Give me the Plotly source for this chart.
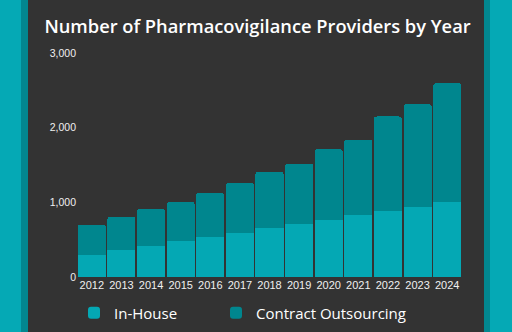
import plotly.graph_objects as go

years = ["2012", "2013", "2014", "2015", "2016", "2017", "2018",
         "2019", "2020", "2021", "2022", "2023", "2024"]
in_house = [300, 360, 415, 480, 535, 590, 650, 710, 765, 825, 885, 940, 1000]
totals = [700, 805, 910, 1005, 1125, 1260, 1410, 1520, 1710, 1840, 2150, 2315, 2595]
contract = [t - h for t, h in zip(totals, in_house)]

LIGHT = "#04A8B4"
DARK = "#00868E"
PANEL = "#333333"

W, H = 512, 332
L, R, T, B = 77, 50, 53, 55
pw, ph = W - L - R, H - T - B

def px(x):
    return (x - L) / pw

def py(y):
    return (H - B - y) / ph

fig = go.Figure()
fig.add_trace(go.Bar(x=years, y=in_house, name="In-House", legend="legend",
                     showlegend=True,
                     marker=dict(color=LIGHT, line=dict(width=0))))
fig.add_trace(go.Bar(x=years, y=contract, name="Contract Outsourcing", legend="legend2",
                     showlegend=True,
                     marker=dict(color=DARK, line=dict(width=0))))

shapes = [
    dict(type="rect", xref="paper", yref="paper", x0=px(0), x1=px(21), y0=py(H), y1=py(0),
         fillcolor="#05A9B5", line=dict(width=0), layer="below"),
    dict(type="rect", xref="paper", yref="paper", x0=px(21), x1=px(28), y0=py(H), y1=py(0),
         fillcolor="#02878F", line=dict(width=0), layer="below"),
    dict(type="rect", xref="paper", yref="paper", x0=px(484), x1=px(490), y0=py(H), y1=py(0),
         fillcolor="#02878F", line=dict(width=0), layer="below"),
    dict(type="rect", xref="paper", yref="paper", x0=px(490), x1=px(W), y0=py(H), y1=py(0),
         fillcolor="#05A9B5", line=dict(width=0), layer="below"),
]

legfont = dict(family="Open Sans", size=15, color="white", weight=500)
legy = py(313)

fig.update_layout(
    width=W, height=H,
    showlegend=True,
    margin=dict(l=L, r=R, t=T, b=B, autoexpand=False),
    paper_bgcolor=PANEL, plot_bgcolor=PANEL,
    barmode="stack", bargap=0.05, barcornerradius=3,
    shapes=shapes,
    title=dict(text="Number of Pharmacovigilance Providers by Year",
               x=0.503, xref="container", xanchor="center", y=1 - 27 / H, yanchor="middle",
               font=dict(family="Open Sans", size=18.3, color="white", weight=600)),
    xaxis=dict(showgrid=False, showline=False, zeroline=False, ticks="",
               tickfont=dict(family="Liberation Sans", size=11, color="#F0F0F0")),
    yaxis=dict(range=[0, 3000], tickvals=[0, 1000, 2000, 3000], tickformat=",",
               showgrid=False, zeroline=False, showline=False, ticks="",
               tickfont=dict(family="Liberation Sans", size=10.5, color="#F0F0F0")),
    legend=dict(orientation="h", x=px(74), xanchor="left", y=legy, yanchor="middle",
                font=legfont, bgcolor="rgba(0,0,0,0)"),
    legend2=dict(orientation="h", x=px(216), xanchor="left", y=legy, yanchor="middle",
                 font=legfont, bgcolor="rgba(0,0,0,0)"),
)

fig.write_html("out.html")
